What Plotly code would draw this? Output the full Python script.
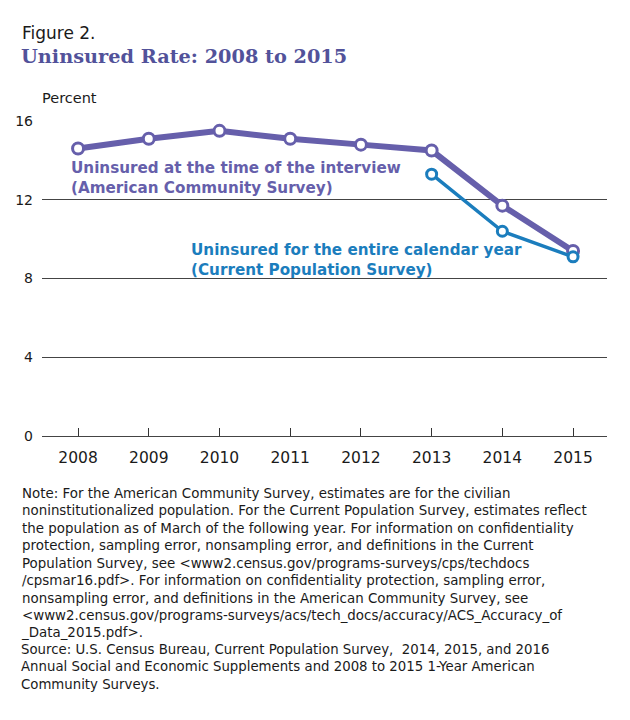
import plotly.graph_objects as go

years = [2008, 2009, 2010, 2011, 2012, 2013, 2014, 2015]
acs_rate = [14.6, 15.1, 15.5, 15.1, 14.8, 14.5, 11.7, 9.4]
cps_years = [2013, 2014, 2015]
cps_rate = [13.3, 10.4, 9.1]
y_ticks = [0, 4, 8, 12, 16]

note_lines = [
    "Note: For the American Community Survey, estimates are for the civilian",
    "noninstitutionalized population. For the Current Population Survey, estimates reflect",
    "the population as of March of the following year. For information on confidentiality",
    "protection, sampling error, nonsampling error, and definitions in the Current",
    "Population Survey, see &lt;www2.census.gov/programs-surveys/cps/techdocs",
    "/cpsmar16.pdf&gt;. For information on confidentiality protection, sampling error,",
    "nonsampling error, and definitions in the American Community Survey, see",
    "&lt;www2.census.gov/programs-surveys/acs/tech_docs/accuracy/ACS_Accuracy_of",
    "_Data_2015.pdf&gt;.",
]
source_lines = [
    "Source: U.S. Census Bureau, Current Population Survey,  2014, 2015, and 2016",
    "Annual Social and Economic Supplements and 2008 to 2015 1-Year American",
    "Community Surveys.",
]

PURPLE = "#665fab"
BLUE = "#1b7dbd"
TITLE = "#52529a"
TEXT = "#1a1a1a"
FONT = "DejaVu Sans"

W, H = 630, 720
L, R, T, B = 42, 23, 121, 284
plot_h = H - T - B


def py(pix):
    return (H - B - pix) / plot_h


def px(pix):
    return (pix - L) / (W - L - R)


fig = go.Figure()
fig.add_trace(go.Scatter(
    x=years, y=acs_rate, mode="lines+markers",
    line=dict(color=PURPLE, width=6),
    marker=dict(size=11, color="white", line=dict(color=PURPLE, width=3)),
    showlegend=False, hoverinfo="skip"))
fig.add_trace(go.Scatter(
    x=cps_years, y=cps_rate, mode="lines+markers",
    line=dict(color=BLUE, width=3.5),
    marker=dict(size=10, color="white", line=dict(color=BLUE, width=3)),
    showlegend=False, hoverinfo="skip"))

ann = []
ann.append(dict(text="Figure 2.", x=px(20), y=py(33), xref="paper", yref="paper",
                xanchor="left", yanchor="middle", showarrow=False,
                font=dict(family=FONT, size=17, color=TEXT)))
ann.append(dict(text="<b>Uninsured Rate: 2008 to 2015</b>", x=px(19), y=py(56),
                xref="paper", yref="paper", xanchor="left", yanchor="middle",
                showarrow=False,
                font=dict(family="DejaVu Serif", size=19.3, color=TITLE)))
ann.append(dict(text="Percent", x=px(40), y=py(98), xref="paper", yref="paper",
                xanchor="left", yanchor="middle", showarrow=False,
                font=dict(family=FONT, size=14.5, color=TEXT)))
ann.append(dict(text="<b>Uninsured at the time of the interview</b>", x=px(69), y=py(168),
                xref="paper", yref="paper", xanchor="left", yanchor="middle",
                showarrow=False, font=dict(family=FONT, size=15.2, color=PURPLE)))
ann.append(dict(text="<b>(American Community Survey)</b>", x=px(69), y=py(188),
                xref="paper", yref="paper", xanchor="left", yanchor="middle",
                showarrow=False, font=dict(family=FONT, size=15.2, color=PURPLE)))
ann.append(dict(text="<b>Uninsured for the entire calendar year</b>", x=px(189), y=py(250),
                xref="paper", yref="paper", xanchor="left", yanchor="middle",
                showarrow=False, font=dict(family=FONT, size=15.2, color=BLUE)))
ann.append(dict(text="<b>(Current Population Survey)</b>", x=px(189), y=py(270),
                xref="paper", yref="paper", xanchor="left", yanchor="middle",
                showarrow=False, font=dict(family=FONT, size=15.2, color=BLUE)))

ann.append(dict(text="<br>".join(note_lines), x=px(19), y=py(484), xref="paper",
                yref="paper", xanchor="left", yanchor="top", align="left",
                showarrow=False, font=dict(family=FONT, size=13.4, color=TEXT)))
ann.append(dict(text="<br>".join(source_lines), x=px(19), y=py(640), xref="paper",
                yref="paper", xanchor="left", yanchor="top", align="left",
                showarrow=False, font=dict(family=FONT, size=13.3, color=TEXT)))

fig.update_layout(
    width=W, height=H,
    margin=dict(l=L, r=R, t=T, b=B, pad=0),
    paper_bgcolor="white", plot_bgcolor="white",
    annotations=ann,
    xaxis=dict(range=[2007.49, 2015.48], tickmode="array", tickvals=years,
               ticktext=[str(y) for y in years], ticks="inside", ticklen=8,
               tickcolor="#333", tickwidth=1, showgrid=False, zeroline=False,
               showline=False, ticklabelstandoff=10,
               tickfont=dict(family=FONT, size=15.5, color=TEXT), fixedrange=True),
    yaxis=dict(range=[0, 16], tickmode="array", tickvals=y_ticks,
               ticktext=[str(v) for v in y_ticks], showgrid=True,
               gridcolor="#444", gridwidth=1, zeroline=True, zerolinecolor="#444",
               zerolinewidth=1, showline=False, ticks="", ticklabelstandoff=8,
               tickfont=dict(family=FONT, size=14, color=TEXT), fixedrange=True),
)

fig.write_html("out.html")
